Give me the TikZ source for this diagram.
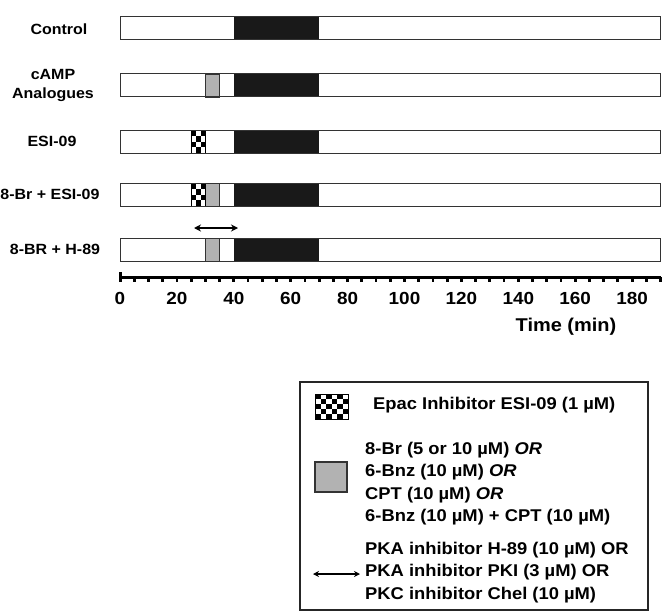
\documentclass[tikz,border=0pt]{standalone}
\usepackage{fontspec}
\setmainfont{Liberation Sans}[FakeStretch=1.08]
\usetikzlibrary{arrows.meta}
\newcommand{\mx}[1]{\fpeval{120+2.845*(#1)}}
\begin{document}
\begin{tikzpicture}[x=1pt,y=-1pt,
  rowlabel/.style={font=\fontsize{14.8}{19}\selectfont\bfseries, align=center},
  ticklabel/.style={font=\fontsize{17.5}{19}\selectfont\bfseries},
  legtext/.style={font=\fontsize{17}{22.3}\selectfont\bfseries, align=left, anchor=west, inner sep=0pt},
  barbox/.style={draw=black!80, line width=1pt, fill=white},
  blackblk/.style={fill=black!90},
  greyblk/.style={draw=black!80, line width=0.8pt, fill=black!30},
  dblarrow/.style={line width=1.4pt, {Stealth[length=7pt,width=7pt]}-{Stealth[length=7pt,width=7pt]}}
]
\useasboundingbox (0,0) rectangle (666,615);
% row labels
\node[rowlabel] (l1) at (59,29) {Control};
\node[rowlabel] (l2) at (53,85.5) {cAMP\\Analogues};
\node[rowlabel] (l3) at (52,141) {ESI-09};
\node[rowlabel] (l4) at (50,194) {8-Br + ESI-09};
\node[rowlabel] (l5) at (55,249) {8-BR + H-89};
% bars
\foreach \t/\g/\c in {17/0/0, 74/1/0, 130/0/1, 183/1/1, 238/1/0}{
  \draw[barbox] (\mx{0},\t) rectangle (\mx{190},\t+23);
  \fill[blackblk] (\mx{40},\t) rectangle (\mx{70},\t+23);
  \ifnum\g=1
    \draw[greyblk] (\mx{30},\t) rectangle (\mx{35},\t+23);
  \fi
  \ifnum\c=1
    \foreach \i in {0,1,2}{
      \foreach \j in {0,1,2,3}{
        \pgfmathparse{int(mod(\i+\j,2))}
        \ifnum\pgfmathresult=0
          \fill[black] ({\mx{25}+\i*4.74},{\t+\j*5.75}) rectangle ++(4.74,5.75);
        \fi
      }
    }
    \draw[black, line width=0.8pt] (\mx{25},\t) rectangle (\mx{30},\t+23);
  \fi
  \draw[black!80, line width=1pt] (\mx{0},\t) rectangle (\mx{190},\t+23);
}
% arrow in row 5
\coordinate (a1) at (194,228);
\coordinate (a2) at (238,228);
\draw[dblarrow] (a1) -- (a2);
% axis
\draw[line width=3pt] (\mx{0},277) -- (\mx{190},277);
\draw[line width=3pt] (\mx{0},272) -- (\mx{0},282);
\foreach \m in {5,10,...,190}{
  \draw[line width=2.8pt] (\mx{\m},277) -- (\mx{\m},281.5);
}
\foreach \m in {0,20,...,180}{
  \node[ticklabel] (t\m) at (\mx{\m},298) {\m};
}
\node[font=\fontsize{18.5}{20}\selectfont\bfseries] (time) at (566,327) {Time (min)};
% legend
\draw[black!85, line width=1.2pt] (300,382) rectangle (648,610);
\foreach \i in {0,...,5}{
  \foreach \j in {0,...,4}{
    \pgfmathparse{int(mod(\i+\j,2))}
    \ifnum\pgfmathresult=0
      \fill[black] ({315+\i*5.5},{394+\j*5}) rectangle ++(5.5,5);
    \fi
  }
}
\draw[black, line width=1pt] (315,394) rectangle (348,419);
\node[legtext] (e1) at (373,405) {Epac Inhibitor ESI-09 (1 µM)};
\draw[greyblk, line width=1.2pt] (315,462) rectangle (347,492);
\node[legtext, anchor=north west] (e2) at (365,442) {8-Br (5 or 10 µM) \textit{OR}\\6-Bnz (10 µM) \textit{OR}\\CPT (10 µM) \textit{OR}\\6-Bnz (10 µM) + CPT (10 µM)};
\coordinate (b1) at (313,574);
\coordinate (b2) at (360,574);
\draw[line width=1.2pt, {Stealth[length=6pt,width=6pt]}-{Stealth[length=6pt,width=6pt]}] (b1) -- (b2);
\node[legtext, anchor=north west] (e3) at (365,542) {PKA inhibitor H-89 (10 µM) OR\\PKA inhibitor PKI (3 µM) OR\\PKC inhibitor Chel (10 µM)};
\end{tikzpicture}
\end{document}
